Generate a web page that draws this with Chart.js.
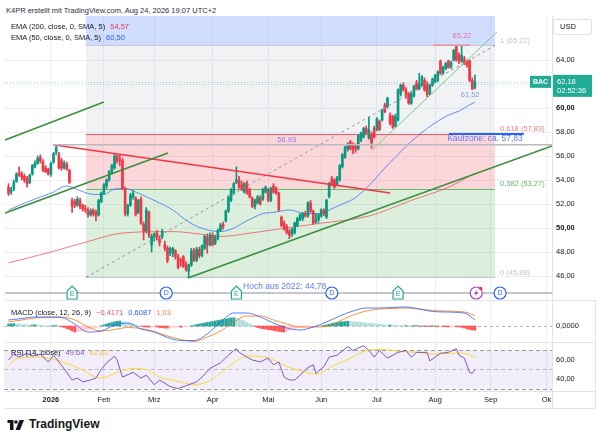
<!DOCTYPE html>
<html>
<head>
<meta charset="utf-8">
<title>BAC Daily</title>
<script src="https://cdn.jsdelivr.net/npm/chart.js@4.4.1/dist/chart.umd.min.js"></script>
<style>
  html, body { margin: 0; padding: 0; background: #fff; }
  body { position: relative; width: 600px; height: 444px; overflow: hidden; font-family: 'Liberation Sans', Arial, sans-serif; color: #131722; }
  canvas { position: absolute; left: 0; }
  .t { position: absolute; font-size: 7.5px; line-height: 9px; white-space: nowrap; z-index: 5; }
  .t span { margin-left: 5px; }
  .hl { position: absolute; height: 1px; background: #e0e3eb; z-index: 4; }
  .vl { position: absolute; width: 1px; background: #e0e3eb; z-index: 4; }
</style>
</head>
<body>
<div class="t" style="left:6px;top:6px;color:#2a2e39">K4PR erstellt mit TradingView.com, Aug 24, 2026 19:07 UTC+2</div>

<canvas id="mainChart" width="600" height="284" style="top:16px"></canvas>
<canvas id="macdChart" width="600" height="42" style="top:300px"></canvas>
<canvas id="rsiChart" width="600" height="66" style="top:342px"></canvas>

<div class="t" style="left:11px;top:22px">EMA (200, close, 0, SMA, 5)<span style="color:#f23645">54,57</span></div>
<div class="t" style="left:11px;top:33px">EMA (50, close, 0, SMA, 5)<span style="color:#2962ff">60,50</span></div>
<div class="t" style="left:11px;top:308px">MACD (close, 12, 26, 9)<span style="color:#f7525f">−0,4171</span><span style="color:#2962ff">0,6087</span><span style="color:#f5883f">1,03</span></div>
<div class="t" style="left:11px;top:348px">RSI (14, close)<span style="color:#7e57c2">49,64</span><span style="color:#f4c542">62,63</span></div>
<div class="t" style="left:553px;top:19px;width:37px;height:14px;border:1px solid #e0e3eb;border-radius:2px;line-height:14px;text-indent:6px;background:#fff">USD</div>

<div class="hl" style="left:5px;top:300px;width:590px"></div>
<div class="hl" style="left:5px;top:342px;width:590px"></div>
<div class="hl" style="left:5px;top:391px;width:590px"></div>
<div class="hl" style="left:5px;top:408px;width:590px"></div>
<div class="vl" style="left:552px;top:16px;height:392px"></div>
<div class="vl" style="left:595px;top:300px;height:108px"></div>

<svg style="position:absolute;left:7px;top:420px" width="19" height="10" viewBox="0 0 36 20">
  <path d="M0 0h12v20H5V6H0z" fill="#131722"/>
  <circle cx="17" cy="4" r="3.6" fill="#131722"/>
  <path d="M24 0h9l-8 20h-9z" fill="#131722"/>
</svg>
<div style="position:absolute;left:29px;top:417px;font-size:12px;font-weight:bold;color:#131722;line-height:14px">TradingView</div>

<script>
// daily bars, Dec 9 2025 .. Aug 24 2026 (index = trading day)
const opens = [53.4,53.0,53.3,53.9,54.6,54.5,54.3,54.1,53.8,54.5,55.1,55.4,55.9,55.5,55.0,54.9,54.5,55.5,56.3,56.1,
  55.6,55.0,55.3,54.8,52.3,52.2,51.9,52.3,51.9,51.6,51.5,51.1,51.5,51.3,51.1,52.2,52.9,53.5,54.0,54.7,
  55.0,56.0,55.7,55.6,53.2,51.2,51.9,52.6,52.5,51.3,52.4,50.3,49.8,51.3,48.6,49.3,49.6,49.1,49.3,48.6,
  48.3,47.9,47.9,48.1,47.6,47.3,47.6,47.0,46.4,46.9,48.1,47.3,48.2,47.7,48.3,49.2,48.6,49.4,48.7,49.1,
  49.8,50.3,50.6,51.4,52.3,52.9,53.8,54.0,53.6,53.0,53.7,53.2,52.5,51.8,52.1,52.5,52.4,53.0,53.2,52.3,
  53.5,53.3,52.9,50.9,50.4,50.1,49.7,49.5,49.6,50.2,50.7,50.8,51.2,51.0,52.1,51.4,50.5,50.7,51.0,51.5,
  50.9,52.6,54.1,54.0,53.6,54.0,55.1,55.9,56.6,57.2,56.9,56.8,56.6,57.3,57.6,58.3,57.5,57.8,58.3,58.2,
  58.9,59.0,60.25,60.1,59.4,59.3,58.5,59.0,61.2,61.9,61.5,61.2,60.4,61.0,62.1,61.6,61.9,62.3,62.06,61.2,
  61.9,62.2,62.3,63.9,62.9,63.3,63.9,63.4,64.0,65.1,64.4,63.9,64.1,63.9,63.9,62.3,61.7];
const highs = [53.7,53.4,54.0,54.6,55.1,54.7,54.5,54.3,54.5,55.3,55.6,56.0,56.1,55.7,55.2,55.0,55.5,56.3,56.93,56.3,
  55.8,55.6,55.5,54.9,52.5,52.4,52.6,52.5,52.0,51.9,51.7,51.6,51.6,51.5,52.4,53.0,53.7,54.1,54.8,55.3,
  56.2,56.1,56.1,55.8,53.4,52.0,52.9,53.1,52.6,52.4,52.6,50.5,51.7,51.4,49.5,49.6,49.8,49.4,49.9,48.9,
  48.5,48.4,48.4,48.2,47.8,47.5,47.7,47.2,47.0,48.3,48.3,48.4,48.4,48.6,49.4,49.5,49.6,49.6,49.4,49.9,
  50.4,50.5,51.5,52.7,53.3,53.8,55.1,54.3,53.9,53.8,53.9,53.3,52.6,52.4,52.7,52.7,53.3,53.5,53.3,53.4,
  53.7,53.4,53.0,51.0,50.6,50.3,49.9,50.0,50.5,50.9,51.2,51.3,51.4,52.2,52.3,51.5,51.2,51.2,51.6,51.6,
  52.4,53.8,54.3,54.1,54.3,55.3,56.2,56.8,57.1,57.3,57.1,57.0,57.8,58.0,58.4,58.5,59.25,58.0,58.5,59.2,
  59.0,59.9,60.4,60.9,59.6,59.4,59.5,61.6,62.0,62.1,61.7,61.3,61.4,61.9,62.3,62.9,62.7,62.5,62.2,62.0,
  62.5,62.8,63.1,64.0,63.5,63.8,64.0,63.9,64.9,65.22,64.6,65.2,64.3,64.0,64.0,62.5,62.75];
const lows = [52.7,52.8,53.1,53.8,54.3,54.0,53.8,53.4,53.7,54.4,55.0,55.3,55.4,54.7,54.6,54.4,54.3,55.4,56.1,54.9,
  54.8,54.9,54.8,53.7,51.3,51.7,51.8,51.6,51.4,51.3,50.9,51.0,51.0,50.6,51.0,52.1,52.8,53.3,53.9,54.5,
  54.9,55.4,55.2,53.2,51.0,51.0,51.8,52.4,51.0,51.2,50.3,49.0,49.6,49.2,48.0,48.9,49.0,48.5,49.1,48.1,
  47.1,47.7,47.6,47.4,46.6,46.8,46.7,46.4,45.88,46.8,47.2,47.2,47.5,47.6,48.2,47.9,48.5,48.5,48.6,49.0,
  49.7,49.9,50.5,51.3,52.2,52.8,53.7,53.3,53.1,52.9,52.8,52.5,51.7,51.6,52.0,51.9,52.3,52.9,52.2,52.2,
  52.9,52.8,51.4,50.1,49.8,49.5,49.1,49.3,49.5,50.1,50.6,50.6,50.9,50.9,51.3,50.3,50.4,50.5,50.9,51.0,
  50.8,52.5,53.5,53.3,53.5,53.9,55.0,55.8,56.4,56.5,56.2,56.3,56.5,57.2,57.5,57.8,57.4,56.65,57.5,58.1,
  58.1,58.9,59.6,60.0,58.6,58.3,58.4,58.9,61.0,61.4,60.8,60.3,60.3,60.9,61.5,61.5,61.8,61.4,60.94,61.1,
  61.8,62.1,62.2,62.8,62.8,63.2,63.3,63.3,63.9,63.9,63.7,63.8,63.6,63.4,62.2,61.52,61.6];
const closes = [52.9,53.2,53.8,54.5,54.4,54.2,54.0,53.7,54.4,55.2,55.4,55.8,55.6,54.8,54.7,54.5,55.4,56.2,56.7,55.0,
  55.0,55.4,54.9,53.8,51.8,51.9,52.4,51.8,51.6,51.5,51.1,51.4,51.2,51.0,52.3,52.9,53.6,54.0,54.7,55.2,
  56.0,55.6,55.6,53.3,51.2,51.9,52.7,52.9,51.1,52.3,50.4,49.7,51.5,49.4,49.3,49.5,49.2,48.8,49.7,48.3,
  47.3,48.3,48.3,47.6,46.7,47.2,46.8,46.5,46.9,48.1,47.3,48.2,47.7,48.5,49.3,48.6,49.4,48.6,49.2,49.8,
  50.25,50.1,51.4,52.6,53.2,53.7,54.0,53.4,53.2,53.7,52.9,52.6,51.8,52.3,52.6,52.0,53.2,53.4,52.3,53.3,
  53.0,52.9,51.5,50.2,50.0,49.6,49.4,49.9,50.4,50.8,51.1,51.2,51.0,52.1,51.4,50.4,50.7,51.1,51.5,51.2,
  52.3,53.7,53.6,53.4,54.2,55.2,56.1,56.7,57.0,56.6,56.5,56.6,57.7,57.9,58.3,57.9,58.2,57.1,57.6,59.1,
  58.2,59.8,59.7,60.8,58.7,58.4,59.3,61.5,61.9,61.5,61.0,60.4,61.2,61.8,61.6,62.0,62.6,61.5,61.1,61.9,
  62.4,62.7,63.0,62.9,63.4,63.7,63.4,63.8,64.8,64.0,63.9,64.4,63.7,63.6,62.3,61.6,62.18];

// moving averages, read at sample bars
const ema50Bars = [0,8,16,22,26,32,36,40,44,48,52,56,62,68,74,80,84,90,96,100,106,112,118,122,126,130,134,138,142,146,150,154,158,162,166,170,174,176];
const ema50 = [51.5,52.25,52.9,53.5,53.2,52.8,52.8,53.25,53.3,53.0,52.6,52.2,51.5,50.5,49.9,49.7,49.9,50.6,51.2,51.3,
  51.5,51.2,51.2,51.6,52.0,52.4,53.1,54.0,55.0,55.9,56.8,57.6,58.3,58.9,59.4,59.75,60.25,60.5];
const ema200Bars = [0,16,28,44,62,72,80,92,108,118,136,152,166,176];
const ema200 = [47.1,48.0,48.75,49.6,49.7,49.5,49.3,49.6,50.1,50.4,51.0,52.3,53.4,54.57];

// MACD (12,26,9)
const macdBars = [0,5,10,15,20,25,30,35,40,45,50,55,60,65,70,75,80,85,90,95,100,105,110,115,120,125,130,135,140,145,150,155,160,165,170,173,176];
const macdLine = [0.6,0.75,0.9,0.9,0.85,0.2,-0.6,-0.5,0.1,0.3,-0.3,-0.6,-1.15,-1.45,-1.45,-0.8,0.4,1.3,1.3,0.9,
  0.3,-0.2,-0.4,-0.1,0.4,1.0,1.5,1.8,1.8,1.85,1.9,1.7,1.45,1.4,1.35,1.2,0.6087];
const signalLine = [0.4,0.6,0.8,0.85,0.9,0.6,-0.1,-0.5,-0.35,-0.15,-0.25,-0.55,-1.0,-1.35,-1.55,-1.1,-0.5,0.4,1.0,1.0,
  0.6,0.2,-0.1,-0.1,-0.05,0.5,1.1,1.5,1.7,1.75,1.8,1.7,1.55,1.5,1.45,1.35,1.03];
const macdHist = [0.2,0.22,0.24,0.22,0.2,0.18,0.15,0.12,0.1,0.1,0.12,0.1,
  0.08,0.05,0.03,0.0,0.02,0.03,0.05,0.02,
  -0.08,-0.15,-0.25,-0.35,-0.5,-0.6,-0.58,-0.55,-0.5,-0.45,
  -0.38,-0.3,-0.22,-0.15,-0.08,0.02,
  0.12,0.2,0.28,0.35,0.42,0.48,0.5,0.45,0.35,
  0.3,0.25,0.2,0.12,0.05,-0.02,
  -0.08,-0.1,-0.12,-0.1,-0.08,-0.1,-0.15,-0.18,-0.2,-0.22,-0.18,-0.15,-0.12,-0.1,-0.12,-0.1,-0.06,-0.02,0.02,
  0.08,0.14,0.2,0.25,0.3,0.35,0.4,0.45,0.5,0.55,0.6,0.65,0.7,0.75,0.8,0.82,0.78,0.7,0.6,0.5,
  0.35,0.2,0.08,-0.05,-0.15,-0.22,-0.28,-0.32,-0.36,-0.4,-0.45,-0.5,-0.55,-0.58,-0.6,-0.55,-0.45,-0.35,-0.28,-0.2,-0.15,
  -0.12,-0.1,-0.08,-0.06,-0.05,-0.04,-0.02,0.0,0.05,
  0.12,0.18,0.25,0.3,0.35,0.4,0.42,0.45,0.48,0.45,0.42,0.4,0.38,0.35,0.32,0.3,0.28,
  0.25,0.22,0.2,0.18,0.15,0.12,0.1,0.1,0.08,0.06,0.05,0.04,
  0.03,0.05,0.02,-0.02,0.03,0.05,-0.03,-0.05,0.02,-0.04,-0.06,0.03,-0.05,-0.07,-0.05,
  -0.06,-0.08,-0.1,-0.07,-0.05,-0.08,-0.1,-0.12,-0.2,-0.28,-0.35,-0.4,-0.42];

// RSI (14) and its moving average
const rsiBars = [0,2,4,7,9,12,15,17,19,22,24,26,28,31,33,35,37,40,41,43,47,50,52,55,57,61,64,67,71,73,76,80,83,85,86,87,90,92,95,98,
  100,102,104,106,108,110,113,115,116,119,121,124,128,130,134,136,138,140,143,147,150,152,154,158,159,163,166,169,170,172,174,175,176];
const rsi = [60,66,63,67,64,66,58,65,58,47,39,41,37,39,41,50,57,64,60,42,47,41,44,34,39,32,30,33,37,42,51,57,65,70,72,68,63,60,58,62,
  55,58,42,39,39,44,52,55,46,53,63,65,74,70,75,70,63,70,62,68,70,63,68,68,59,67,68,72,65,62,47,46,49.64];
const rsiMaBars = [0,4,12,18,26,35,41,47,52,57,65,70,75,80,85,90,95,100,105,110,116,122,129,135,141,148,154,160,167,172,176];
const rsiMa = [55,62,63,60,52,41,47,51,50,42,37,34,37,46,57,64,64,60,53,49,45,53,62,70,71,69,68,66,67,67,62.63];

// axis ticks
const monthBars = [16,36,55,77,98,118,139,161,182,203];
const monthLabels = ['2026','Feb','Mrz','Apr','Mai','Jun','Jul','Aug','Sep','Ok'];
const priceTicks = [46,48,50,52,54,56,58,60,62,64];

// fibonacci retracement (low -> high)
const fibStart = 29.2, fibEnd = 183.6, fibLow = 45.88, fibHigh = 65.22;
const fibLevels = [0, 0.382, 0.618, 1, 1.618];
const fibFills = ['rgba(76,175,80,0.2)', 'rgba(242,54,69,0.2)', 'rgba(120,123,134,0.1)', 'rgba(41,98,255,0.22)'];
const fibLineColors = ['#c9cbd1', '#66bb6a', '#f7525f', '#c9cbd1', '#2962ff'];
const fibLabelColors = ['#c3c5cc', '#66bb6a', '#f77c80', '#c3c5cc', null];

// drawings: [bar, price] anchors
const drawings = [
  { pts: [[-1.3, 57.33], [36.0, 60.5]], color: '#388e3c', width: 1.5 },
  { pts: [[-1.3, 51.25], [60.2, 56.25]], color: '#388e3c', width: 1.5 },
  { pts: [[16.8, 56.93], [205.1, 56.93]], color: '#b8bac2', width: 1.5 },
  { pts: [[16.8, 56.93], [144.0, 52.92]], color: '#f23645', width: 1.5 },
  { pts: [[67.7, 45.83], [205.1, 56.83]], color: '#388e3c', width: 1.5 },
  { pts: [[137.2, 56.5], [184.3, 66.33]], color: '#81c784', width: 1 },
  { pts: [[160.2, 65.22], [174.2, 65.22]], color: '#f28b96', width: 1.5 },
  { pts: [[166.2, 57.83], [194.5, 57.83]], color: '#2962ff', width: 2 },
  { pts: [[fibStart, fibLow], [fibEnd, fibHigh]], color: '#9598a1', width: 1, dash: [3, 3] }
];
const notes = [
  { text: '56,93', at: [105, 57.33], color: '#8c7ae6', size: 7.5 },
  { text: '65,22', at: [171.1, 66.0], color: '#e57399', size: 7.5 },
  { text: '61,52', at: [174.2, 61.08], color: '#7f9cf5', size: 7.5 },
  { text: 'Kaufzone: ca. 57,83', at: [179.8, 57.42], color: '#5b7cfa', size: 8.5 },
  { text: 'Hoch aus 2022: 44,78', at: [104.2, 45.08], color: '#5b7cfa', size: 8.5 }
];
const eventBars = [24, 59.5, 86, 122, 147, 176.5, 185.5];
const eventKinds = ['E', 'D', 'E', 'D', 'E', 'N', 'D'];

const X_MIN = -1.7, X_MAX = 205.1;
const UP = '#089981', DOWN = '#f23645';
const FONT = "'Liberation Sans', Arial, sans-serif";

Chart.defaults.font.family = FONT;
Chart.defaults.font.size = 7.5;
Chart.defaults.color = '#131722';
Chart.defaults.animation = false;
Chart.defaults.events = [];
Chart.defaults.plugins.legend.display = false;
Chart.defaults.plugins.tooltip.enabled = false;

const comma = (v, d) => v.toFixed(d).replace('.', ',');

function xAxis(showLabels) {
  return {
    type: 'linear', min: X_MIN, max: X_MAX, offset: false,
    afterBuildTicks: s => { s.ticks = monthBars.map(v => ({ value: v })); },
    grid: { color: '#eef0f5', drawTicks: false, offset: false },
    border: { display: false },
    ticks: showLabels ? {
      padding: 4, autoSkip: false, maxRotation: 0, minRotation: 0,
      callback: (v, k) => monthLabels[k],
      font: c => ({ size: 7.5, weight: c.index === 0 ? 'bold' : 'normal' })
    } : { display: false },
    afterFit: s => { s.height = showLabels ? 17 : 0; s.paddingLeft = 0; s.paddingRight = 0; }
  };
}

function yAxis(min, max, ticks, digits, gridOn, boldAt) {
  return {
    position: 'right', min: min, max: max, beginAtZero: false,
    afterBuildTicks: s => { s.ticks = ticks.map(v => ({ value: v })); },
    grid: { display: gridOn, color: '#eef0f5', drawTicks: false },
    border: { display: false },
    ticks: {
      padding: 4,
      callback: v => comma(v, digits),
      font: c => ({ size: 7.5, weight: (boldAt && c.tick && boldAt.includes(c.tick.value)) ? 'bold' : 'normal' })
    },
    afterFit: s => { s.width = 48; s.paddingTop = 0; s.paddingBottom = 0; }
  };
}

const candleColors = closes.map((c, k) => c >= opens[k] ? UP : DOWN);

const fibPlugin = {
  id: 'fib',
  beforeDatasetsDraw(chart) {
    const { ctx, chartArea: a, scales: { x, y } } = chart;
    const range = fibHigh - fibLow;
    const p1 = x.getPixelForValue(fibStart), p2 = x.getPixelForValue(fibEnd);
    const lv = fibLevels.map(l => y.getPixelForValue(fibLow + l * range));
    ctx.save();
    ctx.beginPath(); ctx.rect(a.left, a.top, a.width, a.height); ctx.clip();
    for (let k = 0; k < fibLevels.length - 1; k++) {
      ctx.fillStyle = fibFills[k];
      ctx.fillRect(p1, lv[k + 1], p2 - p1, lv[k] - lv[k + 1]);
    }
    ctx.lineWidth = 1;
    lv.forEach((py, k) => {
      ctx.strokeStyle = fibLineColors[k];
      ctx.beginPath(); ctx.moveTo(p1, Math.round(py) + 0.5); ctx.lineTo(p2, Math.round(py) + 0.5); ctx.stroke();
    });
    ctx.font = '7.5px ' + FONT;
    ctx.textAlign = 'left'; ctx.textBaseline = 'bottom';
    fibLevels.forEach((l, k) => {
      if (!fibLabelColors[k]) return;
      ctx.fillStyle = fibLabelColors[k];
      ctx.fillText(String(l).replace('.', ',') + ' (' + comma(fibLow + l * range, 2) + ')', p2 + 5, lv[k] - 1);
    });
    ctx.restore();
  }
};

function drawEvent(ctx, cx, cy, kind) {
  ctx.save();
  ctx.lineWidth = 1.2;
  ctx.fillStyle = '#fff';
  if (kind === 'E') {
    ctx.strokeStyle = '#26a69a';
    ctx.beginPath();
    ctx.moveTo(cx - 5, cy + 6); ctx.lineTo(cx - 5, cy - 2); ctx.lineTo(cx, cy - 7);
    ctx.lineTo(cx + 5, cy - 2); ctx.lineTo(cx + 5, cy + 6); ctx.closePath();
    ctx.fill(); ctx.stroke();
    ctx.fillStyle = '#26a69a';
  } else {
    ctx.strokeStyle = kind === 'D' ? '#2962ff' : '#ab47bc';
    ctx.beginPath(); ctx.arc(cx, cy, 6, 0, Math.PI * 2); ctx.fill(); ctx.stroke();
    ctx.fillStyle = ctx.strokeStyle;
  }
  if (kind === 'N') {
    ctx.beginPath();
    ctx.moveTo(cx + 1.5, cy - 4); ctx.lineTo(cx - 2.5, cy + 1); ctx.lineTo(cx, cy + 1);
    ctx.lineTo(cx - 1.5, cy + 4); ctx.lineTo(cx + 2.5, cy - 1); ctx.lineTo(cx, cy - 1); ctx.closePath();
    ctx.fill();
    ctx.fillStyle = '#f23645';
    ctx.beginPath(); ctx.arc(cx + 4.5, cy - 4.5, 1.8, 0, Math.PI * 2); ctx.fill();
  } else {
    ctx.font = '7px ' + FONT;
    ctx.textAlign = 'center'; ctx.textBaseline = 'middle';
    ctx.fillText(kind, cx, cy + (kind === 'E' ? 1 : 0.5));
  }
  ctx.restore();
}

const decorPlugin = {
  id: 'decor',
  afterDraw(chart) {
    const { ctx, chartArea: a, scales: { x, y } } = chart;
    const last = closes[closes.length - 1];
    const py = y.getPixelForValue(last);
    ctx.save();
    // price line
    ctx.strokeStyle = 'rgba(34,171,148,0.45)'; ctx.lineWidth = 1; ctx.setLineDash([1, 2]);
    ctx.beginPath(); ctx.moveTo(a.left, Math.round(py) + 0.5); ctx.lineTo(a.right, Math.round(py) + 0.5); ctx.stroke();
    ctx.setLineDash([]);
    // notes
    ctx.textAlign = 'center'; ctx.textBaseline = 'middle';
    notes.forEach(n => {
      ctx.font = n.size + 'px ' + FONT;
      ctx.fillStyle = n.color;
      ctx.fillText(n.text, x.getPixelForValue(n.at[0]), y.getPixelForValue(n.at[1]));
    });
    // events strip
    const ey = a.bottom - 7;
    ctx.strokeStyle = '#b2b5be'; ctx.lineWidth = 1.5;
    ctx.beginPath(); ctx.moveTo(a.left + 1, ey); ctx.lineTo(a.right, ey); ctx.stroke();
    eventBars.forEach((b, k) => drawEvent(ctx, x.getPixelForValue(b), ey, eventKinds[k]));
    // symbol tag + price box
    ctx.fillStyle = '#22ab94';
    ctx.fillRect(a.right - 22, py - 6, 21, 12);
    ctx.fillRect(a.right + 1, py - 7, 39, 22);
    ctx.fillStyle = '#fff';
    ctx.font = 'bold 7px ' + FONT;
    ctx.fillText('BAC', a.right - 11.5, py + 0.5);
    ctx.font = '7.5px ' + FONT;
    ctx.textAlign = 'left';
    ctx.fillText(comma(last, 2), a.right + 5, py);
    ctx.fillText('02:52:36', a.right + 5, py + 9.5);
    ctx.restore();
  }
};

const lineSet = (bars, vals, color, extra) => Object.assign({
  type: 'line', data: bars.map((b, k) => ({ x: b, y: vals[k] })),
  borderColor: color, borderWidth: 1, pointRadius: 0, cubicInterpolationMode: 'monotone'
}, extra || {});

new Chart(document.getElementById('mainChart'), {
  type: 'bar',
  data: {
    datasets: [
      lineSet(ema200Bars, ema200, 'rgba(242,54,69,0.65)', { order: 6 }),
      lineSet(ema50Bars, ema50, 'rgba(41,98,255,0.7)', { order: 5 }),
      {
        data: lows.map((l, k) => ({ x: k, y: [l, highs[k]] })),
        backgroundColor: candleColors, barThickness: 1, grouped: false, order: 3
      },
      {
        data: opens.map((o, k) => ({ x: k, y: [o, closes[k]] })),
        backgroundColor: candleColors, barThickness: 2, minBarLength: 1, grouped: false, order: 2
      }
    ].concat(drawings.map(d => ({
      type: 'line', data: d.pts.map(p => ({ x: p[0], y: p[1] })),
      borderColor: d.color, borderWidth: d.width, borderDash: d.dash || [], pointRadius: 0, tension: 0, order: 0
    })))
  },
  options: {
    responsive: false,
    layout: { padding: { left: 4, right: 0, top: 0, bottom: 0 } },
    scales: { x: xAxis(false), y: yAxis(44.0, 67.667, priceTicks, 2, true, [50, 60]) }
  },
  plugins: [fibPlugin, decorPlugin]
});

const histColors = macdHist.map((h, k) => {
  const prev = k ? macdHist[k - 1] : h;
  if (h >= 0) return h >= prev ? '#26a69a' : '#b2dfdb';
  return h < prev ? '#ff5252' : '#ffcdd2';
});

const zeroLine = {
  id: 'zeroLine',
  beforeDatasetsDraw(chart) {
    const { ctx, chartArea: a, scales: { y } } = chart;
    const py = Math.round(y.getPixelForValue(0)) + 0.5;
    ctx.save();
    ctx.strokeStyle = '#b2b5be'; ctx.lineWidth = 1; ctx.setLineDash([3, 3]);
    ctx.beginPath(); ctx.moveTo(a.left, py); ctx.lineTo(a.right, py); ctx.stroke();
    ctx.restore();
  }
};

new Chart(document.getElementById('macdChart'), {
  type: 'bar',
  data: {
    datasets: [
      lineSet(macdBars, macdLine, 'rgba(41,98,255,0.8)', { order: 0 }),
      lineSet(macdBars, signalLine, 'rgba(255,109,0,0.75)', { order: 1 }),
      { data: macdHist.map((h, k) => ({ x: k, y: h })), backgroundColor: histColors, barThickness: 2, grouped: false, order: 2 }
    ]
  },
  options: {
    responsive: false,
    layout: { padding: { left: 4 } },
    scales: { x: xAxis(false), y: yAxis(-1.6, 2.6, [0], 4, false) }
  },
  plugins: [zeroLine]
});

const rsiBand = {
  id: 'rsiBand',
  beforeDatasetsDraw(chart) {
    const { ctx, chartArea: a, scales: { y } } = chart;
    const y70 = y.getPixelForValue(70), y50 = y.getPixelForValue(50), y30 = y.getPixelForValue(30);
    ctx.save();
    ctx.fillStyle = 'rgba(126,87,194,0.1)';
    ctx.fillRect(a.left, y70, a.width, y30 - y70);
    ctx.lineWidth = 1; ctx.setLineDash([4, 3]);
    [[y70, '#9598a1'], [y50, 'rgba(149,152,161,0.6)'], [y30, '#9598a1']].forEach(([v, c]) => {
      ctx.strokeStyle = c;
      ctx.beginPath(); ctx.moveTo(a.left, Math.round(v) + 0.5); ctx.lineTo(a.right, Math.round(v) + 0.5); ctx.stroke();
    });
    ctx.restore();
  }
};

new Chart(document.getElementById('rsiChart'), {
  type: 'line',
  data: {
    datasets: [
      lineSet(rsiBars, rsi, '#7e57c2', { order: 0, cubicInterpolationMode: 'default', tension: 0 }),
      lineSet(rsiMaBars, rsiMa, '#fdd835', { order: 1 })
    ]
  },
  options: {
    responsive: false,
    layout: { padding: { left: 4 } },
    scales: { x: xAxis(true), y: yAxis(27.4, 78.9, [40, 60], 2, false) }
  },
  plugins: [rsiBand]
});
</script>
</body>
</html>
